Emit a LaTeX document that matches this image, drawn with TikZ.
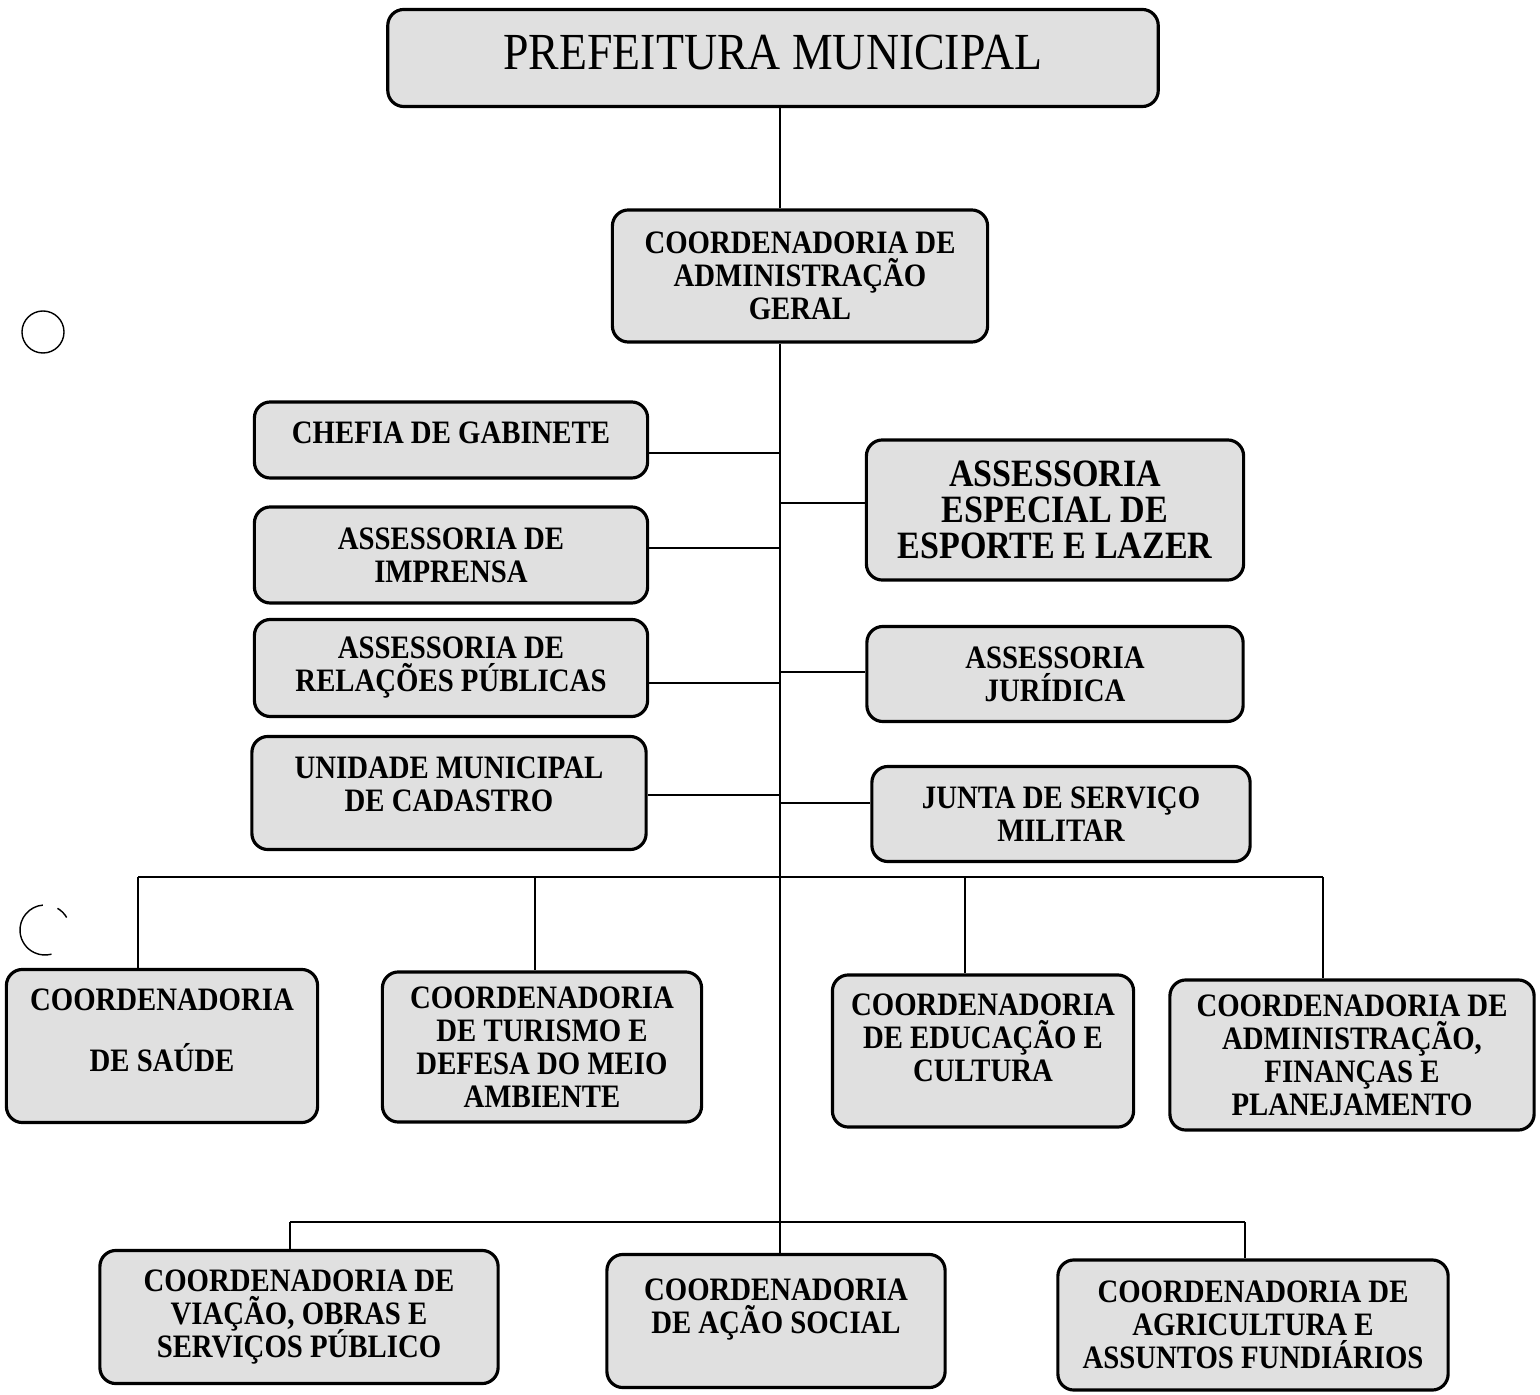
\documentclass[tikz,border=0pt]{standalone}
\usepackage{fontspec}
\setmainfont{Liberation Serif}[FakeStretch=0.88]
\usetikzlibrary{calc}
\newcommand\caixafont{\fontsize{9.3}{9.4}\selectfont\bfseries\lineskiplimit=-6pt\relax}
\newcommand\caixafontg{\fontsize{11}{10.2}\selectfont\bfseries\lineskiplimit=-6pt\relax}

\begin{document}
\begin{tikzpicture}[x=0.01cm,y=-0.01cm,
                caixa/.style={draw,line width=0.9pt,rounded corners=0.16cm,fill=black!12,
                              align=center,inner sep=0pt,font=\caixafont},
                liga/.style={semithick}]

\useasboundingbox (0,0) rectangle (1540,1395);

\node[caixa, minimum width=7.70cm, minimum height=0.97cm, text depth=3pt,
      font=\fontsize{14.8}{15}\selectfont]          (PM)  at (773,58)   {PREFEITURA MUNICIPAL};
\node[caixa, minimum width=3.75cm, minimum height=1.32cm] (CAG) at (800,276)  {COORDENADORIA DE\\ADMINISTRAÇÃO\\GERAL};

\node[caixa, minimum width=3.93cm, minimum height=0.76cm, text depth=4pt] (CG) at (451,440) {CHEFIA DE GABINETE};
\node[caixa, minimum width=3.93cm, minimum height=0.96cm] (AI)  at (451,555)  {ASSESSORIA DE\\IMPRENSA};
\node[caixa, minimum width=3.93cm, minimum height=0.97cm] (AR)  at (451,668)  {ASSESSORIA DE\\RELAÇÕES PÚBLICAS};
\node[caixa, minimum width=3.94cm, minimum height=1.13cm, text depth=5pt] (UC) at (449,793) {UNIDADE MUNICIPAL\\DE CADASTRO};

\node[caixa, minimum width=3.77cm, minimum height=1.40cm, font=\caixafontg] (AE) at (1055,510) {ASSESSORIA\\ESPECIAL DE\\ESPORTE E LAZER};
\node[caixa, minimum width=3.76cm, minimum height=0.95cm] (AJ)  at (1055,674) {ASSESSORIA\\JURÍDICA};
\node[caixa, minimum width=3.78cm, minimum height=0.95cm] (JS)  at (1061,814) {JUNTA DE SERVIÇO\\MILITAR};

\node[caixa, minimum width=3.11cm, minimum height=1.53cm, text depth=9pt] (CS) at (162,1046) {COORDENADORIA\\[8pt]DE SAÚDE};
\node[caixa, minimum width=3.19cm, minimum height=1.50cm] (CT)  at (542,1047)  {COORDENADORIA\\DE TURISMO E\\DEFESA DO MEIO\\AMBIENTE};
\node[caixa, minimum width=3.01cm, minimum height=1.52cm, text depth=7.5pt] (CE) at (983,1051) {COORDENADORIA\\DE EDUCAÇÃO E\\CULTURA};
\node[caixa, minimum width=3.64cm, minimum height=1.50cm] (CA)  at (1352,1055) {COORDENADORIA DE\\ADMINISTRAÇÃO,\\FINANÇAS E\\PLANEJAMENTO};

\node[caixa, minimum width=3.98cm, minimum height=1.33cm] (CV)  at (299,1317)  {COORDENADORIA DE\\VIAÇÃO, OBRAS E\\SERVIÇOS PÚBLICO};
\node[caixa, minimum width=3.38cm, minimum height=1.33cm, text depth=8.5pt] (CSo) at (776,1321) {COORDENADORIA\\DE AÇÃO SOCIAL};
\node[caixa, minimum width=3.90cm, minimum height=1.30cm] (CF)  at (1253,1325) {COORDENADORIA DE\\AGRICULTURA E\\ASSUNTOS FUNDIÁRIOS};

\coordinate (S) at (780,0);
\draw[liga] (PM.south -| S) -- (CAG.north -| S);
\draw[liga] (CAG.south -| S) -- (CSo.north -| S);

\coordinate (g1) at (780,453);
\coordinate (g2) at (780,548);
\coordinate (g3) at (780,683);
\coordinate (g4) at (780,795);
\coordinate (d1) at (780,503);
\coordinate (d2) at (780,672);
\coordinate (d3) at (780,803);
\foreach \g/\n in {g1/CG,g2/AI,g3/AR,g4/UC}
  \draw[liga] (\g) -- (\g -| \n.east);
\foreach \d/\n in {d1/AE,d2/AJ,d3/JS}
  \draw[liga] (\d) -- (\d -| \n.west);

\coordinate (b1) at (138,877);
\coordinate (b2) at (535,877);
\coordinate (b3) at (965,877);
\coordinate (b4) at (1323,877);
\draw[liga] (b1) -- (b4);
\foreach \b/\n in {b1/CS,b2/CT,b3/CE,b4/CA}
  \draw[liga] (\b) -- (\b |- \n.north);

\coordinate (c1) at (290,1222);
\coordinate (c3) at (1245,1222);
\draw[liga] (c1) -- (c3);
\draw[liga] (c1) -- (c1 |- CV.north);
\draw[liga] (c3) -- (c3 |- CF.north);

\draw[thin] (43,332) circle[radius=0.21cm];
\draw[thin] ($(45,930)+(95:0.25cm)$) arc[start angle=95,end angle=285,radius=0.25cm];
\draw[thin] ($(45,930)+(30:0.25cm)$) arc[start angle=30,end angle=60,radius=0.25cm];

\end{tikzpicture}
\end{document}
